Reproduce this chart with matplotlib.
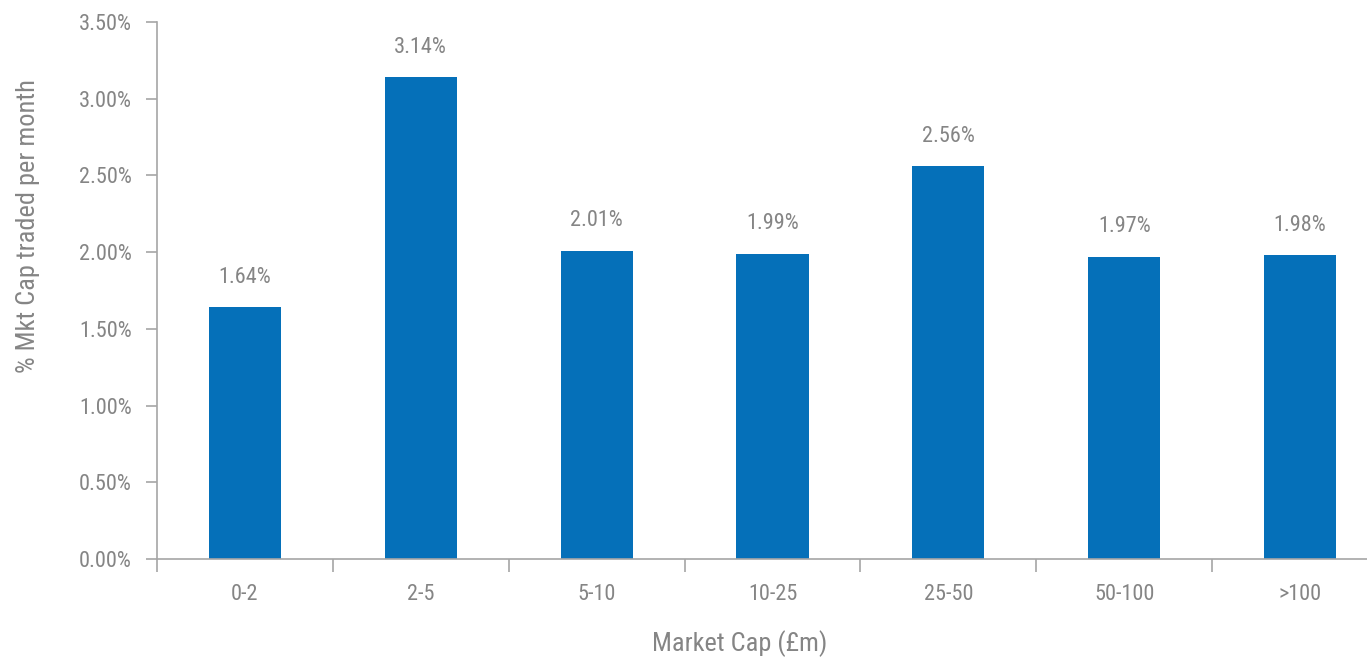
import matplotlib
matplotlib.use("Agg")
import matplotlib.pyplot as plt
from matplotlib.ticker import FuncFormatter, FixedLocator
from matplotlib import font_manager

categories = ["0-2", "2-5", "5-10", "10-25", "25-50", "50-100", ">100"]
values = [1.64, 3.14, 2.01, 1.99, 2.56, 1.97, 1.98]
y_ticks = [0.0, 0.5, 1.0, 1.5, 2.0, 2.5, 3.0, 3.5]

names = {f.name for f in font_manager.fontManager.ttflist}
family = [n for n in ["Liberation Sans Narrow", "DejaVu Sans Condensed", "Roboto Condensed", "DejaVu Sans"] if n in names] or ["DejaVu Sans"]
plt.rcParams["font.family"] = family

TEXT = "#858585"
AXIS = "#a6a6a6"
BAR = "#0570B9"

fig = plt.figure(figsize=(13.67, 6.58), dpi=100)
ax = fig.add_axes([157 / 1367, 1 - 559 / 658, 1231 / 1367, 537 / 658])

x = list(range(len(categories)))
ax.bar(x, values, width=0.41, color=BAR, zorder=2)

for xi, v in zip(x, values):
    ax.annotate(f"{v:.2f}%", (xi, v), xytext=(0, 14), textcoords="offset points",
                ha="center", va="bottom", fontsize=16, color=TEXT)

ax.set_xlim(-0.5, len(categories) - 0.5)
ax.set_ylim(0, 3.5)
ax.set_yticks(y_ticks)
ax.yaxis.set_major_formatter(FuncFormatter(lambda v, p: f"{v:.2f}%"))

ax.set_xticks(x)
ax.set_xticklabels(categories)
ax.xaxis.set_minor_locator(FixedLocator([i - 0.5 for i in range(len(categories) + 1)]))
ax.tick_params(axis="x", which="major", length=0, pad=18, labelsize=16, labelcolor=TEXT)
ax.tick_params(axis="x", which="minor", length=9, width=1.2, color=AXIS)
ax.tick_params(axis="y", length=8, width=1.2, color=AXIS, pad=10, labelsize=16, labelcolor=TEXT)

for s in ["top", "right"]:
    ax.spines[s].set_visible(False)
for s in ["left", "bottom"]:
    ax.spines[s].set_color(AXIS)
    ax.spines[s].set_linewidth(1.2)

ax.set_ylabel("% Mkt Cap traded per month", fontsize=19, color=TEXT)
ax.yaxis.set_label_coords(-0.095, 0.62)
fig.text(740 / 1367, 1 - 644 / 658, "Market Cap (£m)", ha="center", va="center",
         fontsize=19, color=TEXT)

fig.savefig("out.png", dpi=100)
